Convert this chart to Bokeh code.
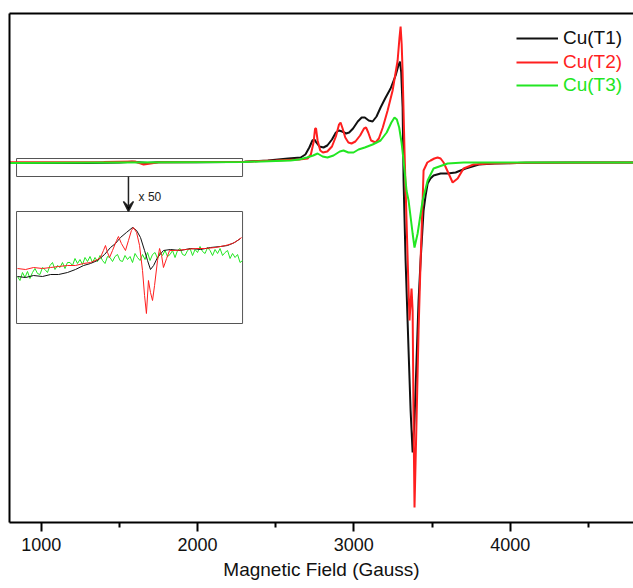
from bokeh.plotting import figure
from bokeh.models import (Range1d, LinearAxis, FixedTicker, Legend, LegendItem,
                          Arrow, VeeHead, Label, Title)
from bokeh.embed import file_html
from bokeh.resources import INLINE

# ---------------- data ----------------
# Main spectra: magnetic field (Gauss) and intensity (a.u.)
field_t1 = [800, 1000, 1300, 1500, 1580, 1680, 1750, 2000, 2200, 2300, 2450, 2580, 2660,
            2690, 2715, 2735, 2748, 2760, 2780, 2806, 2830, 2860, 2885, 2905, 2925,
            2950, 2970, 2995, 3025, 3050, 3070, 3095, 3120, 3145, 3171, 3200, 3235,
            3267, 3285, 3295, 3303, 3312, 3318, 3331, 3350, 3363, 3376, 3388, 3401,
            3414, 3427, 3446, 3459, 3472, 3490, 3510, 3555, 3600, 3651, 3715, 3800,
            3900, 4100, 4400, 4790]
int_t1 = [-0.5, -0.5, -0.5, 0, 0.8, -0.5, 0.2, 0.3, 0.5, 0.8, 2, 4, 5,
          8, 15, 22, 23, 20, 16, 15, 17, 23, 30, 32, 31,
          29, 30, 34, 41, 45, 45, 42, 41, 46, 55, 64, 74,
          87, 97, 101, 90, 55, -18, -98, -188, -248, -290, -258, -198,
          -138, -98, -48, -33, -21, -16, -13, -11, -11, -10, -6, -2,
          -1, -0.3, 0, 0]

field_t2 = [800, 1400, 1600, 1655, 1700, 1750, 2300, 2500, 2650, 2704, 2725, 2742,
            2752, 2758, 2768, 2785, 2802, 2830, 2860, 2885, 2905, 2915, 2928, 2945,
            2965, 2985, 3010, 3040, 3065, 3078, 3092, 3110, 3139, 3160, 3185, 3216,
            3248, 3280, 3292, 3299, 3306, 3312, 3324, 3337, 3350, 3356, 3369, 3376,
            3382, 3388, 3401, 3414, 3427, 3440, 3446, 3470, 3491, 3515, 3536, 3555,
            3574, 3606, 3632, 3664, 3702, 3766, 3875, 4100, 4790]
int_t2 = [0.3, 0.5, 1, -2, -1, 0.3, 0.8, 2, 3, 4, 8, 20,
          34, 34, 22, 12, 10, 11, 16, 26, 38, 40, 34, 25,
          20, 19, 21, 27, 34, 35, 30, 22, 20, 24, 35, 52,
          72, 102, 125, 136, 118, 90, 12, -58, -128, -158, -126, -148,
          -258, -345, -258, -168, -98, -38, -8, 0, 2, 4, 5, 4,
          0, -11, -20, -16, -6, -2, -1, -0.3, 0]

field_t3 = [800, 1500, 2300, 2595, 2650, 2700, 2740, 2768, 2800, 2831, 2870, 2910,
            2934, 2965, 2998, 3030, 3070, 3120, 3171, 3210, 3240, 3260, 3275, 3290,
            3305, 3318, 3337, 3350, 3376, 3388, 3408, 3440, 3472, 3510, 3600, 3702,
            4790]
int_t3 = [-0.5, 0, 0.5, 2, 3, 5, 7, 9, 6, 5, 7, 11,
          12, 10, 10, 13, 15, 18, 22, 30, 40, 45, 43, 35,
          20, 2, -28, -38, -71, -85, -71, -38, -18, -6, -1, 0,
          0]

# Low-field region magnified x 50 (inset), relative intensity
inset_field_t1 = [848, 900, 951, 1008, 1060, 1111, 1168, 1219, 1271, 1315, 1360, 1405,
                  1443, 1475, 1507, 1545, 1584, 1610, 1635, 1661, 1680, 1699, 1719,
                  1744, 1782, 1827, 1891, 1955, 2019, 2083, 2147, 2192, 2237, 2275]
inset_t1 = [-14, -15, -13, -14, -12, -12, -10, -7, -3, -1, 2, 8,
            15, 19, 25, 30, 35, 32, 25, 12, 2, -7, -3,
            5, 12, 13, 12, 14, 13, 15, 16, 17, 20, 24]

inset_field_t2 = [848, 900, 951, 1008, 1060, 1111, 1168, 1219, 1271, 1315, 1360, 1379,
                  1398, 1411, 1424, 1437, 1456, 1482, 1494, 1513, 1539, 1558, 1577,
                  1590, 1610, 1629, 1648, 1661, 1673, 1686, 1699, 1712, 1725, 1744,
                  1757, 1770, 1782, 1802, 1821, 1859, 1923, 1987, 2051, 2115, 2179,
                  2224, 2256, 2282]
inset_t2 = [-6, -7, -5, -6, -5, -4, -3, -3, -1, 0, 3, 5,
            12, 17, 10, 5, 12, 22, 26, 19, 12, 22, 32,
            35, 30, 17, -8, -33, -51, -18, -30, -38, -23, 2,
            14, 7, -5, 4, 12, 12, 13, 14, 14, 15, 17,
            19, 22, 25]

inset_field_t3 = [848, 864, 880, 896, 912, 928, 944, 960, 976, 992, 1008, 1024, 1040,
                  1056, 1072, 1088, 1104, 1120, 1136, 1152, 1168, 1184, 1200, 1216,
                  1232, 1248, 1264, 1280, 1296, 1312, 1328, 1344, 1360, 1376, 1392,
                  1408, 1424, 1440, 1456, 1472, 1488, 1504, 1520, 1536, 1552, 1568,
                  1584, 1600, 1616, 1632, 1648, 1664, 1680, 1696, 1712, 1728, 1744,
                  1760, 1776, 1792, 1808, 1824, 1840, 1856, 1872, 1888, 1904, 1920,
                  1936, 1952, 1968, 1984, 2000, 2016, 2032, 2048, 2064, 2080, 2096,
                  2112, 2128, 2144, 2160, 2176, 2192, 2208, 2224, 2240, 2256, 2272,
                  2288]
inset_t3 = [-14, -18, -10, -15, -9, -16, -10, -6, -11, -12, -5, -7, -10,
            -3, 0, -7, -3, -5, 0, -6, 0, 0, -3, 4,
            -1, 3, -2, 5, 1, 6, 0, 5, 1, 7, 2,
            -1, 6, 5, 1, 6, 8, 2, 1, 7, 3, 6,
            0, 9, 5, 2, 8, 3, 10, 2, 8, 10, 4,
            10, 7, 12, 6, 8, 12, 5, 12, 14, 8, 7,
            12, 14, 7, 13, 10, 16, 11, 9, 15, 12, 7,
            13, 9, 14, 7, 10, 12, 4, 9, 5, 8, 0,
            2]

series_names = ["Cu(T1)", "Cu(T2)", "Cu(T3)"]
x_ticks = [1000, 2000, 3000, 4000]
x_minor_ticks = [1500, 2500, 3500, 4500]
x_title = "Magnetic Field (Gauss)"

# ---------------- styling / layout ----------------
colors = ["#111111", "#ff1f1f", "#22e622"]
FONT = "Liberation Sans"

p = figure(width=633, height=588, output_backend="svg", toolbar_location=None,
           x_range=Range1d(797, 4789), y_range=Range1d(-360, 149),
           x_axis_location=None, y_axis_location=None,
           min_border_left=9, min_border_right=0, min_border_top=13,
           min_border_bottom=66)
p.outline_line_color = None
p.xgrid.visible = False
p.ygrid.visible = False
p.background_fill_color = "white"

# bottom axis
xax = LinearAxis(ticker=FixedTicker(ticks=x_ticks, minor_ticks=x_minor_ticks))
xax.axis_line_width = 2
xax.major_tick_line_width = 2
xax.minor_tick_line_width = 2
xax.major_tick_out = 9
xax.major_tick_in = 0
xax.minor_tick_out = 5
xax.minor_tick_in = 0
xax.major_label_text_font = FONT
xax.major_label_text_font_size = "18px"
xax.major_label_text_color = "#111111"
xax.major_label_standoff = 6
p.add_layout(xax, "below")

# axis title as a title panel below the axis
xt = Title(text=x_title, align="center", text_font=FONT, text_font_size="19px",
           text_font_style="normal", text_color="#111111", standoff=7,
           offset=0)
p.add_layout(xt, "below")

# frame lines: left and top (no ticks)
for side in ("left", "above"):
    ax = LinearAxis(ticker=FixedTicker(ticks=[]))
    ax.axis_line_width = 2
    ax.major_tick_out = 0
    ax.major_tick_in = 0
    ax.minor_tick_out = 0
    ax.minor_tick_in = 0
    ax.major_label_text_font_size = "0px"
    ax.major_label_standoff = 0
    ax.axis_label_standoff = 0
    p.add_layout(ax, side)

# inset boxes (zoom window and magnified panel)
win_x0, win_x1 = 842, 2288
p.quad(left=win_x0, right=win_x1, top=4, bottom=-14, fill_color=None,
       line_color="#555555", line_width=1)
p.quad(left=win_x0, right=win_x1, top=-49, bottom=-161, fill_color="white",
       line_color="#555555", line_width=1)

# arrow and magnification label
p.add_layout(Arrow(end=VeeHead(size=10, line_width=1.5, line_color="#222222"),
                   x_start=1558, y_start=-14, x_end=1558, y_end=-49,
                   line_width=1.5, line_color="#222222"))
p.add_layout(Label(x=1623, y=-34, text="x 50", text_font=FONT, text_font_size="12px",
                   text_baseline="middle", text_color="#222222"))

# inset traces
INSET_BASE = -100
for fx, w, c in [(inset_field_t3, inset_t3, colors[2]),
                 (inset_field_t1, inset_t1, colors[0]),
                 (inset_field_t2, inset_t2, colors[1])]:
    p.line(fx, [INSET_BASE + v for v in w], line_color=c, line_width=1)

# main traces
r1 = p.line(field_t1, int_t1, line_color=colors[0], line_width=2)
r2 = p.line(field_t2, int_t2, line_color=colors[1], line_width=2)
r3 = p.line(field_t3, int_t3, line_color=colors[2], line_width=2)

# legends: one per series so that label colours follow line colours
for i, (r, name) in enumerate(zip([r1, r2, r3], series_names)):
    lg = Legend(items=[LegendItem(label=name, renderers=[r])],
                location=(507, 473 - i * 23.5))
    lg.glyph_width = 42
    lg.glyph_height = 20
    lg.label_height = 20
    lg.label_standoff = 5
    lg.padding = 0
    lg.margin = 0
    lg.border_line_color = None
    lg.background_fill_alpha = 0
    lg.label_text_font = FONT
    lg.label_text_font_size = "19px"
    lg.label_text_color = colors[i]
    p.add_layout(lg)

open("out.html", "w").write(file_html(p, INLINE))
